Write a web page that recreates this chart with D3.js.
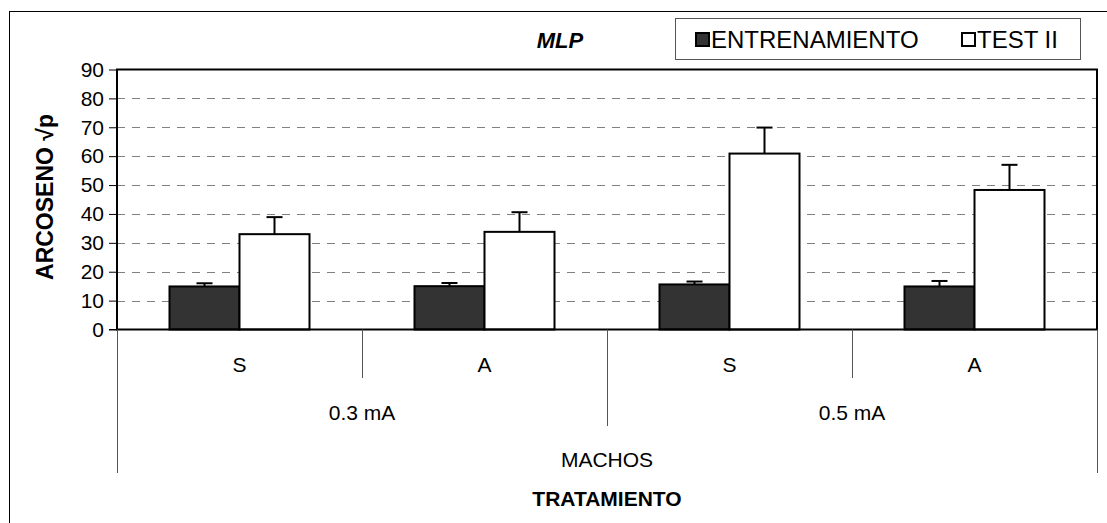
<html>
  <head>
    <meta charset="utf-8">
    <title>MLP</title>
<style>
body { margin: 0; background: #fff; }
svg text { font-family: 'Liberation Sans', Arial, sans-serif; fill: #000; }
.grid line { stroke: #808080; stroke-dasharray: 8,7; stroke-width: 1; }
</style>
  </head>
  <body>
  <div id="chart"></div>
    <script src="https://d3js.org/d3.v7.min.js"></script>
    <script>

    var categories = ["S", "A", "S", "A"];
    var groups = ["0.3 mA", "0.5 mA"];
    var topGroup = "MACHOS";
    var series = ["ENTRENAMIENTO", "TEST II"];
    var entrenamiento = [14.9, 15.0, 15.6, 14.9];
    var entrenamientoErr = [1.1, 1.1, 1.0, 1.9];
    var test2 = [33.0, 33.8, 60.9, 48.3];
    var test2Err = [5.9, 6.8, 9.0, 8.7];
    var yTicks = [0, 10, 20, 30, 40, 50, 60, 70, 80, 90];

    var W = 1107, H = 523;
    var plotLeft = 117, plotRight = 1097, plotTop = 69.5, plotBottom = 329.5;

    var svg = d3.select("#chart").append("svg")
      .attr("width", W).attr("height", H);

    // outer frame (right/bottom fall outside the picture)
    svg.append("rect")
      .attr("x", 9.5).attr("y", 11.5)
      .attr("width", W + 10).attr("height", H + 10)
      .attr("fill", "none").attr("stroke", "#000").attr("stroke-width", 1);

    var x = d3.scaleBand().domain(d3.range(categories.length)).range([plotLeft, plotRight]);
    var xSub = d3.scaleBand().domain(series).range([0, x.bandwidth()]).paddingOuter(0.75);
    var y = d3.scaleLinear().domain([0, 90]).range([plotBottom, plotTop]);

    // gridlines
    svg.append("g").attr("class", "grid")
      .selectAll("line")
      .data(yTicks.filter(function(d){ return d > 0 && d < 90; }))
      .enter().append("line")
      .attr("x1", plotLeft).attr("x2", plotRight)
      .attr("y1", function(d){ return Math.round(y(d)) + 0.5; })
      .attr("y2", function(d){ return Math.round(y(d)) + 0.5; });

    var rows = categories.map(function(c, i){
      return [
        {i: i, s: series[0], v: entrenamiento[i], e: entrenamientoErr[i], fill: "#333333"},
        {i: i, s: series[1], v: test2[i], e: test2Err[i], fill: "#ffffff"}
      ];
    });
    var flat = d3.merge(rows);

    function cx(d) { return x(d.i) + xSub(d.s) + xSub.bandwidth() / 2; }

    // error bars (drawn first so bar outline covers the stem base)
    var eb = svg.append("g").selectAll("g").data(flat).enter().append("g");
    eb.append("line")
      .attr("x1", cx).attr("x2", cx)
      .attr("y1", function(d){ return y(d.v); })
      .attr("y2", function(d){ return y(d.v + d.e); })
      .attr("stroke", "#000").attr("stroke-width", 2);
    eb.append("line")
      .attr("x1", function(d){ return cx(d) - 8; })
      .attr("x2", function(d){ return cx(d) + 8; })
      .attr("y1", function(d){ return y(d.v + d.e); })
      .attr("y2", function(d){ return y(d.v + d.e); })
      .attr("stroke", "#000").attr("stroke-width", 2);

    // bars
    svg.append("g").selectAll("rect").data(flat).enter().append("rect")
      .attr("x", function(d){ return x(d.i) + xSub(d.s); })
      .attr("y", function(d){ return y(d.v); })
      .attr("width", xSub.bandwidth())
      .attr("height", function(d){ return y(0) - y(d.v); })
      .attr("fill", function(d){ return d.fill; })
      .attr("stroke", "#000").attr("stroke-width", 2);

    // plot frame
    svg.append("rect")
      .attr("x", plotLeft).attr("y", plotTop)
      .attr("width", plotRight - plotLeft).attr("height", plotBottom - plotTop)
      .attr("fill", "none").attr("stroke", "#000").attr("stroke-width", 2);

    // y axis ticks and labels
    var yAxis = svg.append("g")
      .attr("transform", "translate(" + plotLeft + ",0)")
      .call(d3.axisLeft(y).tickValues(yTicks).tickSize(8).tickPadding(5));
    yAxis.select(".domain").remove();
    yAxis.selectAll(".tick line").attr("stroke", "#000").attr("stroke-width", 1);
    yAxis.selectAll("text")
      .style("font-family", "'Liberation Sans', Arial, sans-serif")
      .style("font-size", "21px").attr("fill", "#000");

    // multi-level category axis
    var cat = svg.append("g");
    cat.append("line").attr("x1", plotLeft - 8).attr("x2", plotLeft)
      .attr("y1", plotBottom).attr("y2", plotBottom).attr("stroke", "#000");
    [plotLeft, plotRight].forEach(function(px){
      cat.append("line").attr("x1", px + 0.5).attr("x2", px + 0.5)
        .attr("y1", plotBottom).attr("y2", 473).attr("stroke", "#555");
    });
    cat.append("line").attr("x1", x(2) + 0.5).attr("x2", x(2) + 0.5)
      .attr("y1", plotBottom).attr("y2", 426).attr("stroke", "#555");
    [1, 3].forEach(function(i){
      cat.append("line").attr("x1", x(i) + 0.5).attr("x2", x(i) + 0.5)
        .attr("y1", plotBottom).attr("y2", 378).attr("stroke", "#555");
    });

    cat.selectAll(".clab").data(categories).enter().append("text")
      .attr("x", function(d, i){ return x(i) + x.bandwidth() / 2; })
      .attr("y", 365).attr("dy", "0.35em")
      .attr("text-anchor", "middle").style("font-size", "21px")
      .text(function(d){ return d; });

    cat.selectAll(".glab").data(groups).enter().append("text")
      .attr("x", function(d, i){ return x(i * 2) + x.bandwidth(); })
      .attr("y", 413).attr("dy", "0.35em")
      .attr("text-anchor", "middle").style("font-size", "21px")
      .text(function(d){ return d; });

    cat.append("text")
      .attr("x", (plotLeft + plotRight) / 2).attr("y", 460).attr("dy", "0.35em")
      .attr("text-anchor", "middle").style("font-size", "21px")
      .text(topGroup);

    svg.append("text")
      .attr("x", (plotLeft + plotRight) / 2).attr("y", 499).attr("dy", "0.35em")
      .attr("text-anchor", "middle").style("font-size", "21px").style("font-weight", "bold")
      .text("TRATAMIENTO");

    svg.append("text")
      .attr("transform", "translate(45,197) rotate(-90)")
      .attr("dy", "0.35em")
      .attr("text-anchor", "middle").style("font-size", "23px").style("font-weight", "bold")
      .text("ARCOSENO \u221Ap");

    svg.append("text")
      .attr("x", 560).attr("y", 40).attr("dy", "0.35em")
      .attr("text-anchor", "middle").style("font-size", "22px")
      .style("font-weight", "bold").style("font-style", "italic")
      .text("MLP");

    // legend
    var lg = svg.append("g");
    lg.append("rect").attr("x", 675.5).attr("y", 18.5).attr("width", 405).attr("height", 41)
      .attr("fill", "#fff").attr("stroke", "#555").attr("stroke-width", 1);
    var legX = [696, 962];
    var legFill = ["#333333", "#ffffff"];
    series.forEach(function(s, i){
      lg.append("rect").attr("x", legX[i]).attr("y", 33).attr("width", 13).attr("height", 13)
        .attr("fill", legFill[i]).attr("stroke", "#000").attr("stroke-width", 2);
      lg.append("text").attr("x", legX[i] + 15).attr("y", 40).attr("dy", "0.35em")
        .style("font-size", "24px").text(s);
    });

     </script>
  </body>
</html>
